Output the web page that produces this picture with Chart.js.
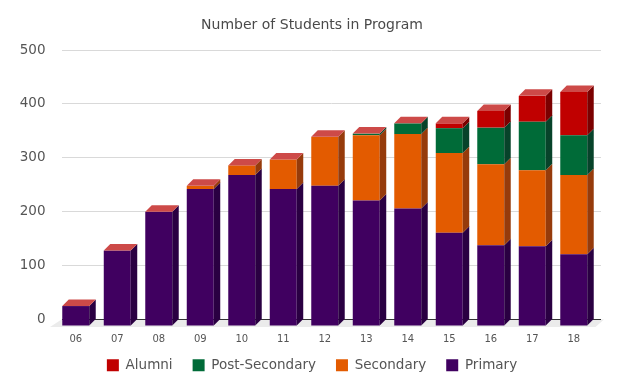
<!DOCTYPE html>
<html>
<head>
<meta charset="utf-8">
<script src="https://cdn.jsdelivr.net/npm/chart.js@4.4.1/dist/chart.umd.min.js"></script>
<style>
  html, body { margin: 0; padding: 0; background: #fff; }
  #wrap { width: 624px; height: 392px; }
</style>
</head>
<body>
<div id="wrap"><canvas id="studentsChart" width="624" height="392"></canvas></div>
<script>
// school years (x axis)
const years = ["06", "07", "08", "09", "10", "11", "12", "13", "14", "15", "16", "17", "18"];

// students per group
const primary       = [37, 140, 212, 254, 280, 254, 260, 233, 218, 173, 150, 148, 133];
const secondary     = [0, 0, 0, 6, 18, 55, 91, 121, 138, 148, 150, 141, 147];
const postSecondary = [0, 0, 0, 0, 0, 0, 0, 3, 20, 46, 68, 90, 74];
const alumni        = [0, 0, 0, 0, 0, 0, 0, 0, 0, 9, 31, 48, 80];

const yTicks = [0, 100, 200, 300, 400, 500];

// fake 3d depth
const DX = 6.5, DY = 6.5;

const bar3d = {
  id: "bar3d",
  beforeDraw(chart) {
    const { left, right, bottom } = chart.chartArea;
    const c = chart.ctx;
    c.save();
    c.fillStyle = "#ebebeb";
    c.beginPath();
    c.moveTo(left, bottom);
    c.lineTo(right + 3, bottom);
    c.lineTo(right + 3 - DX - 2, bottom + DY + 1);
    c.lineTo(left - DX - 5, bottom + DY + 1);
    c.closePath();
    c.fill();
    c.restore();
  },
  beforeDatasetsDraw(chart) {
    chart.ctx.save();
    chart.ctx.translate(-DX, DY);
  },
  afterDatasetsDraw(chart) {
    const c = chart.ctx;
    c.restore();
    const tops = [];
    chart.data.datasets.forEach((ds, i) => {
      const meta = chart.getDatasetMeta(i);
      meta.data.forEach((bar, j) => {
        const p = bar.getProps(["x", "y", "base", "width"], true);
        const l = p.x - p.width / 2, r = p.x + p.width / 2;
        const top = Math.min(p.y, p.base);
        if (tops[j] === undefined || top < tops[j].top) tops[j] = { l, r, top };
        if (Math.abs(p.base - p.y) < 0.5) return;
        c.fillStyle = ds.sideColor;
        c.beginPath();
        c.moveTo(r - DX, p.y + DY);
        c.lineTo(r, p.y);
        c.lineTo(r, p.base);
        c.lineTo(r - DX, p.base + DY);
        c.closePath();
        c.fill();
      });
    });
    // cap on top of each stack
    c.fillStyle = "#cd4a48";
    tops.forEach(t => {
      c.beginPath();
      c.moveTo(t.l - DX, t.top + DY);
      c.lineTo(t.r - DX, t.top + DY);
      c.lineTo(t.r, t.top);
      c.lineTo(t.l, t.top);
      c.closePath();
      c.fill();
    });
  }
};

const font = "'DejaVu Sans', Verdana, sans-serif";

new Chart(document.getElementById("studentsChart"), {
  type: "bar",
  data: {
    labels: years,
    datasets: [
      { label: "Primary", data: primary, backgroundColor: "#400060", sideColor: "#2a0042" },
      { label: "Secondary", data: secondary, backgroundColor: "#e35b00", sideColor: "#963b0b" },
      { label: "Post-Secondary", data: postSecondary, backgroundColor: "#006b38", sideColor: "#07432a" },
      { label: "Alumni", data: alumni, backgroundColor: "#c00000", sideColor: "#7b0000" }
    ]
  },
  options: {
    responsive: false,
    animation: false,
    devicePixelRatio: 1,
    layout: { padding: { left: 0, right: 0, top: 0, bottom: 10 } },
    datasets: {
      bar: { categoryPercentage: 1, barPercentage: 0.65, borderWidth: 0, clip: false }
    },
    plugins: {
      title: {
        display: true,
        text: "Number of Students in Program",
        color: "#4a4a4a",
        font: { family: font, size: 14, weight: "normal" },
        padding: { top: 16.5, bottom: 16.7 }
      },
      legend: {
        position: "bottom",
        reverse: true,
        labels: {
          color: "#555",
          font: { family: font, size: 13.5 },
          boxWidth: 12,
          boxHeight: 12,
          padding: 20
        }
      },
      tooltip: { enabled: false }
    },
    scales: {
      x: {
        stacked: true,
        afterFit(scale) { scale.height = 19; },
        grid: { display: false, drawTicks: false },
        border: { display: false },
        ticks: {
          color: "#555",
          font: { family: font, size: 10 },
          // mirrored so the labels are not clipped to the short axis box
          mirror: true,
          padding: -26,
          labelOffset: -DX,
          maxRotation: 0,
          autoSkip: false
        }
      },
      y: {
        stacked: true,
        min: yTicks[0],
        max: yTicks[yTicks.length - 1],
        afterFit(scale) { scale.width = 61.5; },
        afterBuildTicks(scale) { scale.ticks = yTicks.map(v => ({ value: v })); },
        border: { display: false },
        grid: {
          drawTicks: false,
          color: ctx => ctx.tick && ctx.tick.value === 0 ? "#333" : "#d9d9d9"
        },
        ticks: {
          color: "#555",
          font: { family: font, size: 13.5 },
          padding: 16
        }
      },
      // empty right axis only keeps the right margin
      yRight: {
        position: "right",
        grid: { display: false, drawTicks: false },
        border: { display: false },
        ticks: { display: false },
        afterFit(scale) { scale.width = 23; }
      }
    }
  },
  plugins: [bar3d]
});
</script>
</body>
</html>
